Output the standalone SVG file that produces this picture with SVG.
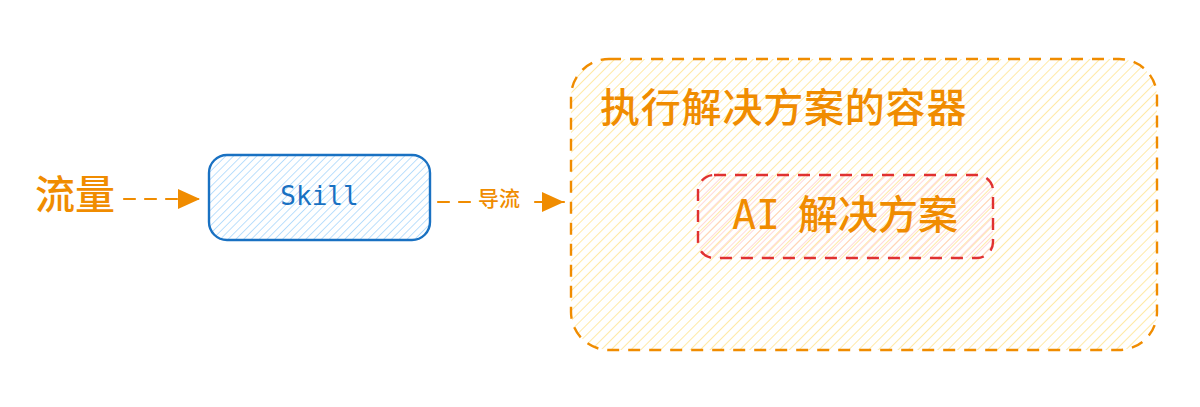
<svg xmlns="http://www.w3.org/2000/svg" width="1200" height="407" viewBox="0 0 1200 407">
  <defs>
    <pattern id="hatchYellow" width="7" height="7" patternUnits="userSpaceOnUse" patternTransform="rotate(45)">
      <line x1="0" y1="0" x2="0" y2="7" stroke="#ffdf80" stroke-width="1.4"/>
    </pattern>
    <pattern id="hatchBlue" width="5.5" height="5.5" patternUnits="userSpaceOnUse" patternTransform="rotate(45)">
      <line x1="0" y1="0" x2="0" y2="5.5" stroke="#9fd2fb" stroke-width="1.4"/>
    </pattern>
    <pattern id="hatchPink" width="5" height="5" patternUnits="userSpaceOnUse" patternTransform="rotate(45)">
      <line x1="0" y1="0" x2="0" y2="5" stroke="#ffc4c4" stroke-width="1.3"/>
    </pattern>
    <marker id="arrowHead" markerUnits="userSpaceOnUse" markerWidth="24" markerHeight="24" refX="22" refY="11" orient="auto">
      <path d="M0,1 L22,11 L0,21 Z" fill="#f08c00"/>
    </marker>
    <style>
      .cjk { font-family: "Noto Sans CJK SC", "Noto Sans", sans-serif; fill: #f08c00; font-weight: 500; }
      .mono { font-family: "DejaVu Sans Mono", "Liberation Mono", "Noto Sans CJK SC", monospace; }
      .conn { fill: none; stroke: #f08c00; stroke-width: 2.2; stroke-dasharray: 11 10; stroke-linecap: round; }
    </style>
  </defs>
  <rect width="1200" height="407" fill="#ffffff"/>

  <g id="container">
    <rect x="571" y="59" width="586" height="291" rx="38" ry="38" fill="url(#hatchYellow)" stroke="#f08c00" stroke-width="2.4" stroke-dasharray="12 9"/>
    <text class="cjk" x="600" y="122" font-size="40" letter-spacing="0.8">执行解决方案的容器</text>
  </g>

  <g id="ai-solution">
    <rect x="698" y="175" width="295" height="83" rx="16" ry="16" fill="url(#hatchPink)" stroke="#e03131" stroke-width="2.4" stroke-dasharray="12 9"/>
    <text class="cjk" y="229" font-size="40"><tspan class="mono" x="732" style="fill:#f08c00">AI </tspan><tspan x="798">解决方案</tspan></text>
  </g>

  <g id="traffic">
    <text class="cjk" x="35" y="209" font-size="40">流量</text>
  </g>

  <g id="skill">
    <rect x="209" y="155" width="221" height="85" rx="18" ry="18" fill="url(#hatchBlue)" stroke="#1971c2" stroke-width="2.4"/>
    <text class="mono" x="319.5" y="205" font-size="26" text-anchor="middle" fill="#1971c2">Skill</text>
  </g>

  <g id="connectors">
    <path class="conn" d="M124,199 L200,199" marker-end="url(#arrowHead)"/>
    <path class="conn" d="M438,202 L472,202"/>
    <path class="conn" d="M535,202 L564,202" marker-end="url(#arrowHead)"/>
    <text class="cjk" x="499" y="206" font-size="21" text-anchor="middle">导流</text>
  </g>
</svg>
